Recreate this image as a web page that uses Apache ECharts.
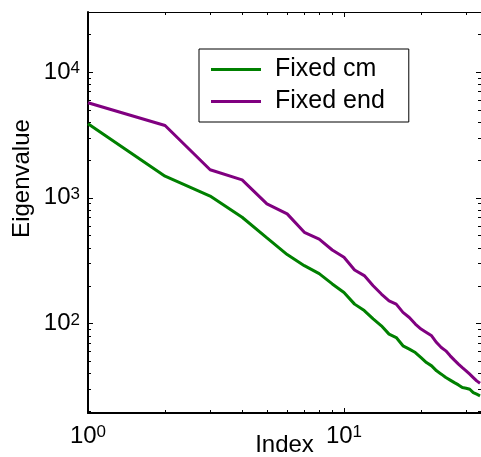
<!DOCTYPE html>
<html>
<head>
<meta charset="utf-8">
<script src="https://cdn.jsdelivr.net/npm/echarts@6/dist/echarts.min.js"></script>
<style>
html,body{margin:0;padding:0;background:#fff;}
#chart{width:481px;height:457px;}
</style>
</head>
<body>
<div id="chart"></div>
<script>
// ---- data ----
const indices = [1,2,3,4,5,6,7,8,9,10,11,12,13,14,15,16,17,18,19,20,21,22,23,24,25,26,27,28,29,30,31,32,33,34];
const fixedCm = [3880,1486,1033,701,480,354,289,250,207,177,143,127,109,96.2,82.6,77.6,66.7,62.8,59.0,53.8,49.1,46.2,42.2,39.7,37.3,35.6,34.0,32.6,31.1,30.7,30.1,28.3,27.5,26.7];
const fixedEnd = [5700,3760,1671,1391,896,746,532,470,385,337,267,241,200,172,152,143,123,112,99.3,90.6,85.1,80.1,70.8,64.7,60.8,55.5,51.3,47.7,44.8,42.2,39.7,37.3,35.1,33.6];
const seriesNames = ['Fixed cm', 'Fixed end'];
const xMajorTicks = [1, 10];
const xMinorTicks = [2,3,4,5,6,7,8,9,20,30];
const yMajorTicks = [100, 1000, 10000];
const yMinorTicks = [20,30,40,50,60,70,80,90,200,300,400,500,600,700,800,900,2000,3000,4000,5000,6000,7000,8000,9000,20000,30000];
const xName = 'Index';
const yName = 'Eigenvalue';

const FONT = '"Liberation Sans", Arial, sans-serif';
const X_MIN = 1, X_MAX = 34.3, Y_MIN = 19.5, Y_MAX = 30000;

function expFmt(v) {
  const e = Math.round(Math.log10(v));
  return '{b|10}{s|' + e + '}';
}

const xRich = {
  b: {fontSize: 24, fontFamily: FONT, color: '#000', lineHeight: 24, padding: [11, 0, 0, 0], verticalAlign: 'bottom'},
  s: {fontSize: 17, fontFamily: FONT, color: '#000', lineHeight: 17, verticalAlign: 'top'}
};
const yRich = {
  b: {fontSize: 24, fontFamily: FONT, color: '#000', lineHeight: 24, padding: [11, 0, 11, 0], verticalAlign: 'middle'},
  s: {fontSize: 17, fontFamily: FONT, color: '#000', lineHeight: 17, verticalAlign: 'top'}
};

function mkX(pos, opts) {
  return Object.assign({
    type: 'log', logBase: 10, min: X_MIN, max: X_MAX, position: pos, gridIndex: 0,
    nameMoveOverlap: false,
    axisLine: {show: false, onZero: false},
    axisTick: {show: false},
    axisLabel: {show: false},
    splitLine: {show: false}
  }, opts);
}
function mkY(pos, opts) {
  return Object.assign({
    type: 'log', logBase: 10, min: Y_MIN, max: Y_MAX, position: pos, gridIndex: 0,
    nameMoveOverlap: false,
    axisLine: {show: false, onZero: false},
    axisTick: {show: false},
    axisLabel: {show: false},
    splitLine: {show: false}
  }, opts);
}

const chart = echarts.init(document.getElementById('chart'), null, {renderer: 'canvas'});
chart.setOption({
  animation: false,
  backgroundColor: '#fff',
  grid: {left: 88, top: 12, width: 393, height: 401, containLabel: false, outerBoundsMode: 'none'},
  legend: {
    orient: 'vertical',
    left: 199, top: 49,
    data: seriesNames,
    icon: 'rect',
    itemWidth: 50, itemHeight: 3,
    itemGap: 7,
    padding: [8, 24, 8, 12],
    borderColor: '#000', borderWidth: 1, backgroundColor: '#fff',
    textStyle: {fontSize: 25, fontFamily: FONT, color: '#000', padding: [0, 0, 0, 9]}
  },
  xAxis: [
    mkX('bottom', {
      name: xName, nameLocation: 'middle', nameGap: 20,
      nameTextStyle: {fontSize: 24, fontFamily: FONT, color: '#000', verticalAlign: 'top'},
      axisLine: {show: true, onZero: false, lineStyle: {color: '#000', width: 2}},
      axisTick: {show: true, inside: true, length: 5, lineStyle: {color: '#000', width: 1}, customValues: xMajorTicks},
      axisLabel: {show: true, margin: 11, formatter: expFmt, rich: xRich, customValues: xMajorTicks}
    }),
    mkX('bottom', {
      axisTick: {show: true, inside: true, length: 3, lineStyle: {color: '#000', width: 1}, customValues: xMinorTicks}
    }),
    mkX('top', {
      axisLine: {show: true, onZero: false, lineStyle: {color: '#000', width: 1}},
      axisTick: {show: true, inside: true, length: 5, lineStyle: {color: '#000', width: 1}, customValues: xMajorTicks}
    }),
    mkX('top', {
      axisTick: {show: true, inside: true, length: 3, lineStyle: {color: '#000', width: 1}, customValues: xMinorTicks}
    })
  ],
  yAxis: [
    mkY('left', {
      name: yName, nameLocation: 'middle', nameGap: 54, nameRotate: 90,
      nameTextStyle: {fontSize: 24, fontFamily: FONT, color: '#000', padding: [0, 0, 0, 68]},
      axisLine: {show: true, onZero: false, lineStyle: {color: '#000', width: 2}},
      axisTick: {show: true, inside: true, length: 5, lineStyle: {color: '#000', width: 1}, customValues: yMajorTicks},
      axisLabel: {show: true, margin: 8, formatter: expFmt, rich: yRich, customValues: yMajorTicks}
    }),
    mkY('left', {
      axisTick: {show: true, inside: true, length: 3, lineStyle: {color: '#000', width: 1}, customValues: yMinorTicks}
    }),
    mkY('right', {
      axisLine: {show: true, onZero: false, lineStyle: {color: '#000', width: 1}},
      axisTick: {show: true, inside: true, length: 5, lineStyle: {color: '#000', width: 1}, customValues: yMajorTicks}
    }),
    mkY('right', {
      axisTick: {show: true, inside: true, length: 3, lineStyle: {color: '#000', width: 1}, customValues: yMinorTicks}
    })
  ],
  series: [
    {
      name: seriesNames[0], type: 'line', xAxisIndex: 0, yAxisIndex: 0,
      data: indices.map((x, i) => [x, fixedCm[i]]),
      symbol: 'none', clip: true,
      lineStyle: {color: '#008000', width: 3}, itemStyle: {color: '#008000'}
    },
    {
      name: seriesNames[1], type: 'line', xAxisIndex: 0, yAxisIndex: 0,
      data: indices.map((x, i) => [x, fixedEnd[i]]),
      symbol: 'none', clip: true,
      lineStyle: {color: '#800080', width: 3}, itemStyle: {color: '#800080'}
    }
  ]
});
</script>
</body>
</html>
